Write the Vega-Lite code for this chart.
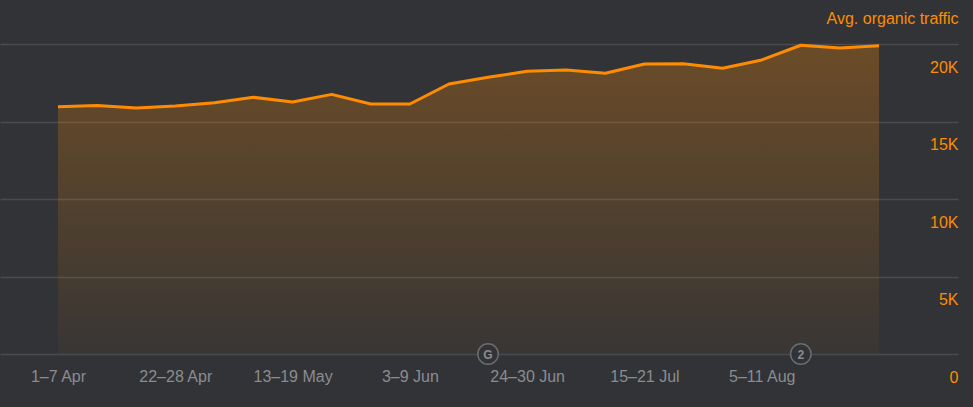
{
  "$schema": "https://vega.github.io/schema/vega-lite/v6.json",
  "width": 958,
  "height": 310,
  "autosize": {"type": "none"},
  "padding": {"left": 0, "top": 44, "right": 15, "bottom": 53},
  "background": "#323336",
  "config": {
    "view": {"stroke": null},
    "font": "Liberation Sans"
  },
  "datasets": {
    "traffic": [
      {"week": "2024-04-01", "traffic": 15950},
      {"week": "2024-04-08", "traffic": 16030},
      {"week": "2024-04-15", "traffic": 15870},
      {"week": "2024-04-22", "traffic": 16000},
      {"week": "2024-04-29", "traffic": 16210},
      {"week": "2024-05-06", "traffic": 16560},
      {"week": "2024-05-13", "traffic": 16260},
      {"week": "2024-05-20", "traffic": 16750},
      {"week": "2024-05-27", "traffic": 16130},
      {"week": "2024-06-03", "traffic": 16130},
      {"week": "2024-06-10", "traffic": 17420},
      {"week": "2024-06-17", "traffic": 17850},
      {"week": "2024-06-24", "traffic": 18240},
      {"week": "2024-07-01", "traffic": 18320},
      {"week": "2024-07-08", "traffic": 18110},
      {"week": "2024-07-15", "traffic": 18710},
      {"week": "2024-07-22", "traffic": 18730},
      {"week": "2024-07-29", "traffic": 18430},
      {"week": "2024-08-05", "traffic": 18970},
      {"week": "2024-08-12", "traffic": 19920},
      {"week": "2024-08-19", "traffic": 19740},
      {"week": "2024-08-26", "traffic": 19890}
    ],
    "notes": [
      {"week": "2024-06-17", "traffic": 0, "label": "G"},
      {"week": "2024-08-12", "traffic": 0, "label": "2"}
    ]
  },
  "encoding": {
    "x": {
      "field": "week",
      "type": "temporal",
      "scale": {
        "type": "utc",
        "domain": [
          {"year": 2024, "month": 3, "date": 21, "hours": 14, "minutes": 46, "utc": true},
          {"year": 2024, "month": 9, "date": 9, "hours": 3, "minutes": 29, "utc": true}
        ]
      },
      "axis": {
        "title": null,
        "grid": false,
        "domain": false,
        "ticks": false,
        "labelColor": "#8a8c90",
        "labelFontSize": 16,
        "labelBaseline": "top",
        "labelPadding": 14,
        "labelOverlap": false,
        "values": [
          {"year": 2024, "month": 4, "date": 1, "utc": true},
          {"year": 2024, "month": 4, "date": 22, "utc": true},
          {"year": 2024, "month": 5, "date": 13, "utc": true},
          {"year": 2024, "month": 6, "date": 3, "utc": true},
          {"year": 2024, "month": 6, "date": 24, "utc": true},
          {"year": 2024, "month": 7, "date": 15, "utc": true},
          {"year": 2024, "month": 8, "date": 5, "utc": true}
        ],
        "labelExpr": "utcFormat(datum.value, '%-d') + '–' + utcFormat(datum.value + 6*86400000, '%-d %b')"
      }
    },
    "y": {
      "field": "traffic",
      "type": "quantitative",
      "scale": {"domain": [0, 20000], "nice": false},
      "axis": {
        "orient": "right",
        "title": "Avg. organic traffic",
        "titleAngle": 0,
        "titleAlign": "right",
        "titleBaseline": "middle",
        "titleX": 0,
        "titleY": -26,
        "titleColor": "#ff8c00",
        "titleFontSize": 16,
        "titleFontWeight": "normal",
        "grid": true,
        "gridColor": "#4a4b4e",
        "gridWidth": 1.5,
        "domain": false,
        "ticks": false,
        "tickSize": 0,
        "labelPadding": 0,
        "labelAlign": "right",
        "labelBaseline": "middle",
        "labelOffset": 23,
        "labelColor": "#ff8c00",
        "labelFontSize": 16,
        "values": [0, 5000, 10000, 15000, 20000],
        "labelExpr": "datum.value == 0 ? '0' : (datum.value / 1000) + 'K'"
      }
    }
  },
  "layer": [
    {
      "data": {"name": "traffic"},
      "mark": {
        "type": "area",
        "color": {
          "gradient": "linear",
          "x1": 0, "y1": 0, "x2": 0, "y2": 1,
          "stops": [
            {"offset": 0, "color": "rgba(255,140,0,0.28)"},
            {"offset": 1, "color": "rgba(255,140,0,0.03)"}
          ]
        }
      }
    },
    {
      "data": {"name": "traffic"},
      "mark": {"type": "line", "color": "#ff8c00", "strokeWidth": 3, "strokeJoin": "round"}
    },
    {
      "data": {"name": "notes"},
      "mark": {"type": "point", "shape": "circle", "size": 420, "filled": false, "fill": "#323336", "fillOpacity": 1, "stroke": "#6b6c70", "strokeWidth": 1.5, "opacity": 1}
    },
    {
      "data": {"name": "notes"},
      "mark": {"type": "text", "fontSize": 12, "fontWeight": "bold", "color": "#8a8c90", "baseline": "middle", "align": "center", "dy": 0.5},
      "encoding": {"text": {"field": "label"}}
    }
  ]
}
